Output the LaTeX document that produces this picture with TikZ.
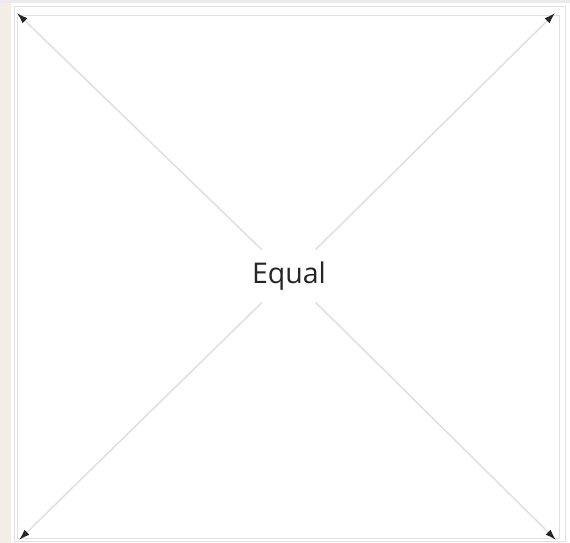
\documentclass[tikz,border=0pt]{standalone}
\usepackage{fontspec}
\setmainfont{Open Sans}
\usetikzlibrary{arrows.meta}
\begin{document}
\begin{tikzpicture}[x=1pt,y=-1pt,
  frame/.style={draw=black!12,line width=0.8pt},
  diag/.style={draw=black!13,line width=1.4pt,-{Latex[length=11pt,width=7pt,black!85]}},
  lbl/.style={fill=white,inner xsep=16pt,inner ysep=12pt,font=\fontsize{28.5}{32}\selectfont,text=black!85}]
\useasboundingbox (0,0) rectangle (570,543);
\fill[white] (0,0) rectangle (570,543);
\fill[black!20!brown!12] (0,0) rectangle (11,543);
\fill[black!8] (0,0) rectangle (570,3);
\draw[frame] (14,6) rectangle (565,541);
\draw[frame] (17,15) rectangle (559,538);
\node[lbl] (c) at (289,276) {Equal};
\coordinate (tl) at (17,13);
\coordinate (tr) at (555,13);
\coordinate (bl) at (19,540);
\coordinate (br) at (556,540);
\draw[diag] (c) -- (tl);
\draw[diag] (c) -- (tr);
\draw[diag] (c) -- (bl);
\draw[diag] (c) -- (br);
\end{tikzpicture}
\end{document}
